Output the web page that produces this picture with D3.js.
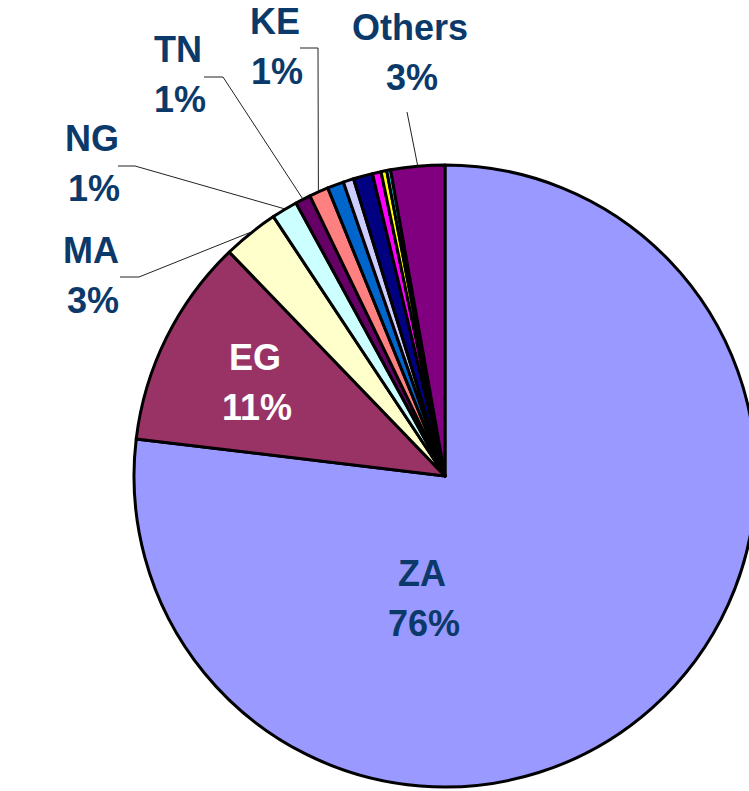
<!DOCTYPE html>
<html>
<head>
<meta charset="utf-8">
<script src="https://cdn.jsdelivr.net/npm/d3@7"></script>
<style>
  html, body { margin: 0; padding: 0; background: #fff; overflow: hidden; }
  text { font-family: "Liberation Sans", Arial, sans-serif; font-weight: bold; }
</style>
</head>
<body>
<div id="chart"></div>
<script>
const WIDTH = 749
const HEIGHT = 791
const CX = 445, CY = 476, R = 311

// slices, clockwise from 12 o'clock (% of total)
const categories = ["ZA", "EG", "MA", "NG", "TN", "KE", "", "", "", "", "", "", "Others"]
const values = [76.9, 10.9, 2.9, 1.35, 0.8, 1.0, 0.85, 0.55, 1.0, 0.45, 0.3, 0.2, 2.8]
const pctLabels = ["76%", "11%", "3%", "1%", "1%", "1%", "", "", "", "", "", "", "3%"]
const colors = ["#9999FF", "#993366", "#FFFFCC", "#CCFFFF", "#660066", "#FF8080",
                "#0066CC", "#CCCCFF", "#000080", "#FF00FF", "#FFFF00", "#00FFFF", "#800080"]

// where each label sits (baseline of first line) and leader elbows
const labelPos = {
    ZA: [422, 586], EG: [255, 370], MA: [91, 263], NG: [92, 151],
    TN: [178, 62], KE: [275, 34], Others: [410, 40]
}
const leaders = {
    MA: [[120, 277], [139, 277]],
    NG: [[118, 166], [135, 166]],
    TN: [[204, 77], [223, 77]],
    KE: [[300, 48], [318, 48]],
    Others: [[407, 112]]
}

const svg = d3.select("#chart").append("svg")
    .attr("width", WIDTH)
    .attr("height", HEIGHT)

const data = categories.map((c, i) => ({ name: c, value: values[i], pct: pctLabels[i], color: colors[i] }))

const pie = d3.pie().sort(null).value(d => d.value)
const arcs = pie(data)

const arc = d3.arc().innerRadius(0).outerRadius(R)
const edge = d3.arc().innerRadius(R + 1).outerRadius(R + 1)

const g = svg.append("g").attr("transform", `translate(${CX}, ${CY})`)

g.selectAll("path.slice")
    .data(arcs)
    .enter()
    .append("path")
    .attr("class", "slice")
    .attr("d", arc)
    .attr("fill", d => d.data.color)
    .attr("stroke", "#000")
    .attr("stroke-width", 3)
    .attr("stroke-linejoin", "round")

// leader lines
const line = d3.line()
arcs.forEach(d => {
    const pts = leaders[d.data.name]
    if (!pts) return
    const [ex, ey] = edge.centroid(d)
    const all = pts.concat([[CX + ex, CY + ey]])
    svg.append("path")
        .attr("d", line(all))
        .attr("fill", "none")
        .attr("stroke", "#222")
        .attr("stroke-width", 1)
})

// labels
arcs.forEach(d => {
    const pos = labelPos[d.data.name]
    if (!pos) return
    const fill = d.data.name === "EG" ? "#fff" : "#0B3A6A"
    const t = svg.append("text")
        .attr("text-anchor", "middle")
        .attr("font-size", 36)
        .attr("fill", fill)
    t.append("tspan").attr("x", pos[0]).attr("y", pos[1]).text(d.data.name)
    t.append("tspan").attr("x", pos[0] + 2).attr("y", pos[1] + 50).text(d.data.pct)
})
</script>
</body>
</html>
